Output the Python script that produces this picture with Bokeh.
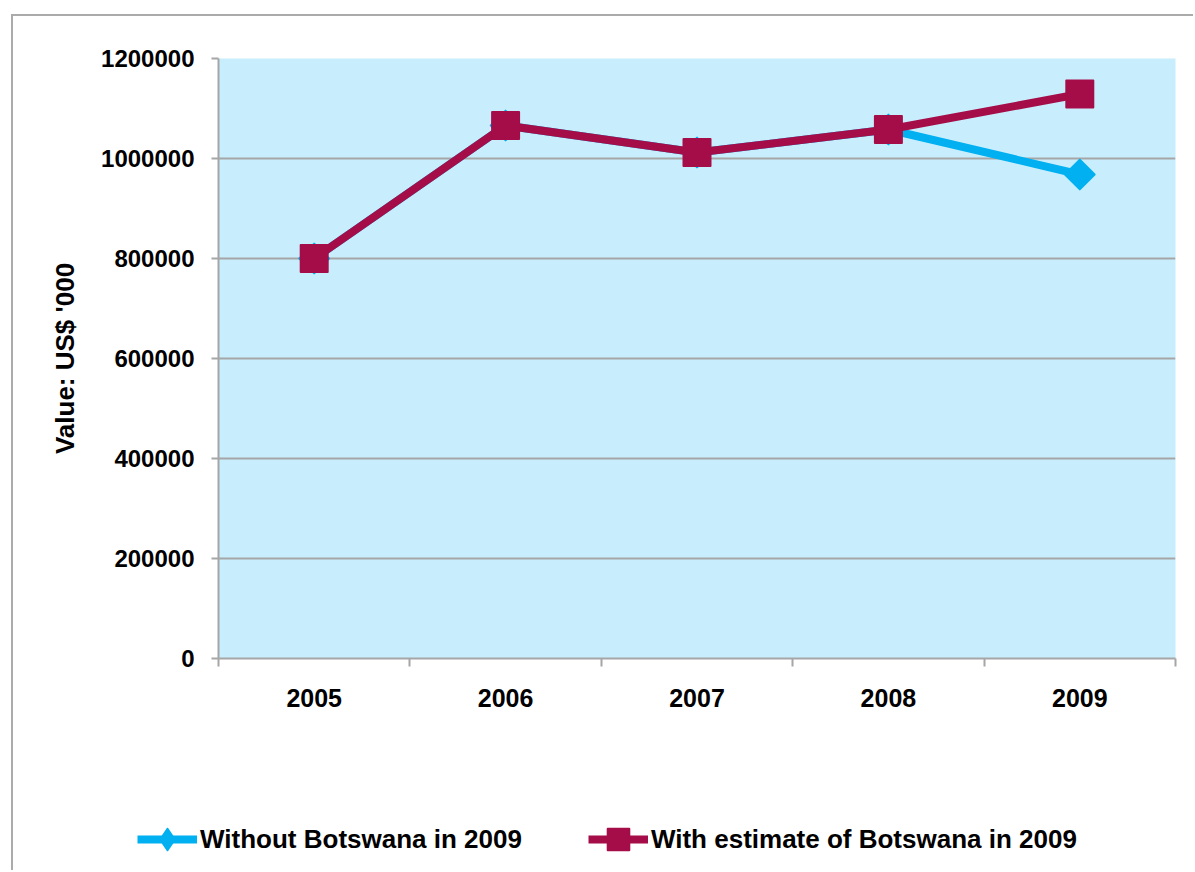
from bokeh.plotting import figure
from bokeh.models import FixedTicker, Legend, LegendItem, ColumnDataSource, Range1d
from bokeh.embed import file_html
from bokeh.resources import INLINE
import math

# ---- data ----
years = ["2005", "2006", "2007", "2008", "2009"]
without_botswana = [800000, 1066000, 1012000, 1058000, 968000]
with_estimate = [800000, 1066000, 1012000, 1058000, 1129000]
y_ticks = [0, 200000, 400000, 600000, 800000, 1000000, 1200000]
series_names = ["Without Botswana in 2009", "With estimate of Botswana in 2009"]

BLUE = "#00B0F0"
MAGENTA = "#A50D48"
BG = "#C8EEFD"
GRID = "#A6A6A6"
FONT = "Liberation Sans"
BORDER = "2px solid #ABABAB"

x_pos = [i + 0.5 for i in range(len(years))]
src = ColumnDataSource(dict(x=x_pos, wo=without_botswana, wi=with_estimate))

p = figure(
    width=1182, height=784,
    min_border_left=205, min_border_top=42, min_border_right=20, min_border_bottom=142,
    x_range=Range1d(0, len(years)), y_range=Range1d(0, 1200000),
    output_backend="svg", toolbar_location=None,
)
p.styles = {"border-left": BORDER, "border-top": BORDER,
            "margin-left": "11px", "margin-top": "14px"}
p.background_fill_color = BG
p.border_fill_color = "white"
p.outline_line_color = None

# y axis
p.yaxis.ticker = FixedTicker(ticks=y_ticks)
p.yaxis.major_label_overrides = {t: str(t) for t in y_ticks}
p.yaxis.axis_line_color = GRID
p.yaxis.axis_line_width = 2
p.yaxis.major_tick_line_color = GRID
p.yaxis.major_tick_line_width = 2
p.yaxis.major_tick_out = 7
p.yaxis.major_tick_in = 0
p.yaxis.minor_tick_line_color = None
p.yaxis.major_label_text_font = FONT
p.yaxis.major_label_text_font_style = "bold"
p.yaxis.major_label_text_font_size = "24px"
p.yaxis.major_label_text_color = "black"
p.yaxis.major_label_standoff = 17
p.yaxis.axis_label = "Value: US$ '000"
p.yaxis.axis_label_text_font = FONT
p.yaxis.axis_label_text_font_style = "bold"
p.yaxis.axis_label_text_font_size = "26px"
p.yaxis.axis_label_text_color = "black"
p.yaxis.axis_label_standoff = 18

# x axis: labels at centres, boundary ticks as minor ticks
p.xaxis.ticker = FixedTicker(ticks=x_pos, minor_ticks=list(range(len(years) + 1)))
p.xaxis.major_label_overrides = {x: y for x, y in zip(x_pos, years)}
p.xaxis.major_tick_line_color = None
p.xaxis.minor_tick_line_color = GRID
p.xaxis.minor_tick_line_width = 2
p.xaxis.minor_tick_out = 8
p.xaxis.minor_tick_in = 0
p.xaxis.axis_line_color = GRID
p.xaxis.axis_line_width = 2
p.xaxis.major_label_text_font = FONT
p.xaxis.major_label_text_font_style = "bold"
p.xaxis.major_label_text_font_size = "25px"
p.xaxis.major_label_text_color = "black"
p.xaxis.major_label_standoff = 22

p.xgrid.grid_line_color = None
p.ygrid.ticker = FixedTicker(ticks=y_ticks)
p.ygrid.grid_line_color = GRID
p.ygrid.grid_line_width = 2

# series
p.line("x", "wo", source=src, line_color=BLUE, line_width=8)
p.scatter("x", "wo", source=src, marker="square", angle=math.pi / 4, size=21,
          fill_color=BLUE, line_color=BLUE, line_width=2, line_join="round")
p.line("x", "wi", source=src, line_color=MAGENTA, line_width=8)
p.scatter("x", "wi", source=src, marker="square", size=27,
          fill_color=MAGENTA, line_color=MAGENTA, line_width=2, line_join="round")

# legend strip underneath (keys drawn from style-only renderers with no visible points)
lg = figure(width=1182, height=72, min_border=0, x_range=Range1d(0, 1), y_range=Range1d(0, 1),
            output_backend="svg", toolbar_location=None)
lg.styles = {"border-left": BORDER, "margin-left": "11px"}
lg.axis.visible = False
lg.grid.visible = False
lg.outline_line_color = None
nan = [float("nan")]
kl1 = lg.line(x=nan, y=nan, line_color=BLUE, line_width=8)
ks1 = lg.scatter(x=nan, y=nan, marker="diamond", size=21,
                 fill_color=BLUE, line_color=BLUE, line_width=2, line_join="round")
kl2 = lg.line(x=nan, y=nan, line_color=MAGENTA, line_width=8)
ks2 = lg.scatter(x=nan, y=nan, marker="square", size=27,
                 fill_color=MAGENTA, line_color=MAGENTA, line_width=2, line_join="round")

legend = Legend(
    items=[LegendItem(label=series_names[0], renderers=[kl1, ks1]),
           LegendItem(label=series_names[1], renderers=[kl2, ks2])],
    orientation="horizontal", location=(124, 4),
    label_text_font=FONT, label_text_font_style="bold", label_text_font_size="26px",
    label_text_color="black", glyph_width=60, glyph_height=54, label_standoff=3,
    spacing=66, padding=0, margin=0, border_line_color=None, background_fill_alpha=0,
)
lg.add_layout(legend, "center")

open("out.html", "w").write(file_html([p, lg], INLINE))
